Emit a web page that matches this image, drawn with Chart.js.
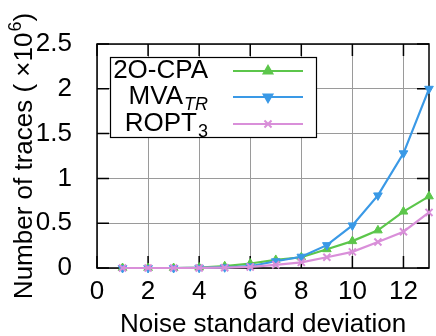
<!DOCTYPE html>
<html><head><meta charset="utf-8">
<script src="https://cdn.jsdelivr.net/npm/chart.js@4/dist/chart.umd.min.js"></script>
<style>html,body{margin:0;padding:0;background:#fff;overflow:hidden}</style>
</head><body>
<canvas id="c" width="436" height="336"></canvas>
<script>
const noiseStd = [1,2,3,4,5,6,7,8,9,10,11,12,13];
const cpa2O  = [0,0,0,0.005,0.02,0.05,0.09,0.12,0.21,0.30,0.42,0.63,0.80];
const mvaTR  = [0,0,0,0.002,0.008,0.02,0.075,0.126,0.255,0.475,0.81,1.28,2.0];
const ropt3  = [0,0,0,0.001,0.004,0.012,0.035,0.063,0.12,0.18,0.29,0.405,0.62];
const xTicks = [0,2,4,6,8,10,12];
const yTicks = [0,0.5,1,1.5,2,2.5];
const seriesNames = ['2O-CPA','MVA','ROPT'];
const seriesSubs = ['','TR','3'];
const xTitle = 'Noise standard deviation';
const yTitleMain = 'Number of traces ( \u00D710';
const yTitleSup = '6';
const yTitleEnd = ')';

const FONT = 'Liberation Sans';
const FS = 26;
const GREEN = '#5cc64b', BLUE = '#3a99e6', PINK = '#d98fd9';

function pts(ys){ return ys.map((y,i)=>({x:noiseStd[i], y})); }

const framePlugin = {
  id:'frame',
  beforeDatasetsDraw(chart){
    const {ctx, chartArea:a, scales:{x,y}} = chart;
    ctx.save();
    ctx.strokeStyle='#000'; ctx.lineWidth=1.5;
    ctx.beginPath();
    xTicks.forEach(v=>{const px=x.getPixelForValue(v); ctx.moveTo(px,a.bottom); ctx.lineTo(px,a.bottom-12); ctx.moveTo(px,a.top); ctx.lineTo(px,a.top+12);});
    yTicks.forEach(v=>{const py=y.getPixelForValue(v); ctx.moveTo(a.left,py); ctx.lineTo(a.left+12,py); ctx.moveTo(a.right,py); ctx.lineTo(a.right-12,py);});
    ctx.stroke();
    ctx.strokeRect(a.left, a.top, a.right-a.left, a.bottom-a.top);
    ctx.restore();
  },
  afterDraw(chart){
    const {ctx, chartArea:a} = chart;
    ctx.save();
    ctx.translate(32, (a.top+a.bottom)/2);
    ctx.rotate(-Math.PI/2);
    ctx.fillStyle='#000'; ctx.textBaseline='alphabetic'; ctx.textAlign='left';
    const mainF = FS+'px "'+FONT+'"', supF = '18px "'+FONT+'"';
    ctx.font=mainF; const w1=ctx.measureText(yTitleMain).width, w3=ctx.measureText(yTitleEnd).width;
    ctx.font=supF; const w2=ctx.measureText(yTitleSup).width;
    const tot=w1+w2+w3+1; let sx=-tot/2;
    ctx.font=mainF; ctx.fillText(yTitleMain,sx,0); sx+=w1+1;
    ctx.font=supF; ctx.fillText(yTitleSup,sx,-11); sx+=w2;
    ctx.font=mainF; ctx.fillText(yTitleEnd,sx,0);
    ctx.restore();

    ctx.save();
    const bx=110, by=57, bw=206, bh=80;
    ctx.fillStyle='#fff'; ctx.fillRect(bx,by,bw,bh);
    ctx.strokeStyle='#000'; ctx.lineWidth=1.2; ctx.strokeRect(bx+0.5,by+0.5,bw,bh);
    const rows=[71,97,124];
    const cols=[GREEN,BLUE,PINK];
    const ds = chart.data.datasets;
    rows.forEach((ry,i)=>{
      ctx.fillStyle='#000'; ctx.textBaseline='middle';
      const sub = seriesSubs[i];
      let subW = 0;
      const subFont = (i===1?'italic ':'')+'18px "'+FONT+'"';
      if(sub){ ctx.font=subFont; subW = ctx.measureText(sub).width; }
      ctx.font = FS+'px "'+FONT+'"';
      const mainW = ctx.measureText(seriesNames[i]).width;
      const right = 208;
      const start = right - subW - mainW - (sub?1:0);
      ctx.textAlign='left';
      ctx.fillText(seriesNames[i], start, ry);
      if(sub){ ctx.font=subFont; ctx.fillText(sub, start+mainW+1, ry+8); }
      ctx.strokeStyle=cols[i]; ctx.lineWidth=2;
      ctx.beginPath(); ctx.moveTo(233,ry); ctx.lineTo(303,ry); ctx.stroke();
      const d = ds[i];
      ctx.fillStyle=cols[i]; ctx.strokeStyle=cols[i];
      Chart.helpers.drawPoint(ctx,{pointStyle:d.pointStyle, radius:d.pointRadius, rotation:d.pointRotation||0, borderWidth:d.pointBorderWidth}, 268, ry);
    });
    ctx.restore();
  }
};

new Chart(document.getElementById('c'),{
  type:'line',
  data:{datasets:[
    {label:'2O-CPA', data:pts(cpa2O), borderColor:GREEN, backgroundColor:GREEN, pointStyle:'triangle', pointRadius:5, borderWidth:2.2, pointBorderWidth:1, order:2, clip:false},
    {label:'MVATR', data:pts(mvaTR), borderColor:BLUE, backgroundColor:BLUE, pointStyle:'triangle', pointRotation:180, pointRadius:5, borderWidth:2.2, pointBorderWidth:1, order:1, clip:false},
    {label:'ROPT3', data:pts(ropt3), borderColor:PINK, backgroundColor:PINK, pointStyle:'crossRot', pointRadius:5, borderWidth:2.2, pointBorderWidth:2, order:0, clip:false}
  ]},
  options:{
    responsive:false, animation:false, devicePixelRatio:1,
    layout:{padding:{top:44,right:0,left:0,bottom:0}},
    plugins:{legend:{display:false}, tooltip:{enabled:false}},
    scales:{
      x:{type:'linear', min:0, max:13,
        afterBuildTicks(s){ s.ticks = xTicks.map(v=>({value:v})); },
        afterFit(s){ s.height = 68; },
        grid:{color:'#9a9a9a', lineWidth:1, drawTicks:false},
        border:{display:false},
        ticks:{color:'#000', font:{family:FONT,size:FS}, padding:8, maxRotation:0, callback:v=>String(v)},
        title:{display:true, text:xTitle, color:'#000', font:{family:FONT,size:FS,lineHeight:0.85}, padding:{top:8,bottom:0}}
      },
      y:{type:'linear', min:0, max:2.5,
        afterBuildTicks(s){ s.ticks = yTicks.map(v=>({value:v})); },
        afterFit(s){ s.width = 97; },
        grid:{color:'#9a9a9a', lineWidth:1, drawTicks:false},
        border:{display:false},
        ticks:{color:'#000', font:{family:FONT,size:FS}, padding:25, callback:v=>String(v)}
      }
    }
  },
  plugins:[framePlugin]
});
</script>
</body></html>
